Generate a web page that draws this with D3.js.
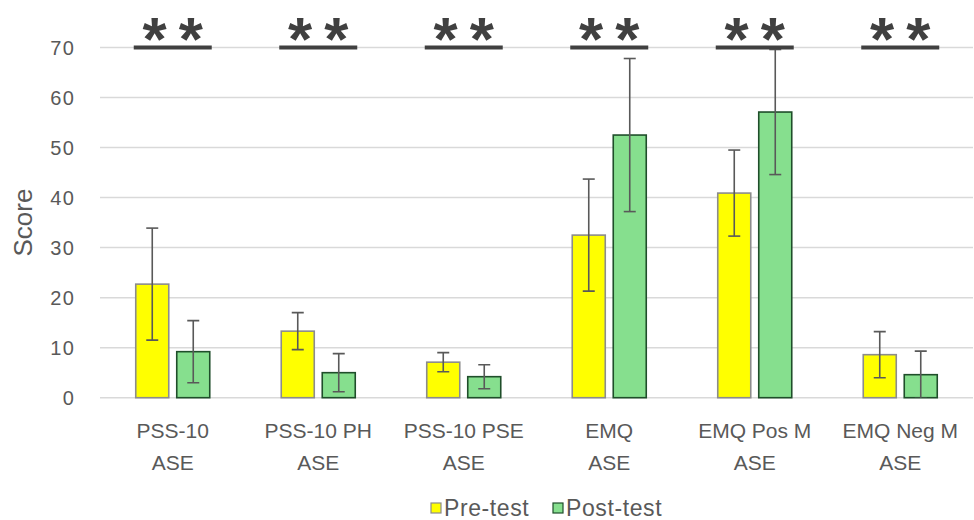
<!DOCTYPE html>
<html>
<head>
<meta charset="utf-8">
<script src="https://cdn.jsdelivr.net/npm/d3@7"></script>
<style>
  body{margin:0;background:#fff;}
  svg{display:block;font-family:"Liberation Sans",Arial,sans-serif;}
</style>
</head>
<body>
<div id="chart"></div>
<script>
// ---- data ----
var categories = ["PSS-10|ASE","PSS-10 PH|ASE","PSS-10 PSE|ASE","EMQ|ASE","EMQ Pos M|ASE","EMQ Neg M|ASE"];
var series = ["Pre-test","Post-test"];
var preMean  = [22.7, 13.3, 7.1, 32.5, 40.9, 8.6];
var preErr   = [11.2, 3.7, 1.9, 11.2, 8.6, 4.6];
var postMean = [9.2, 5.0, 4.2, 52.5, 57.1, 4.6];
var postErr  = [6.2, 3.8, 2.4, 15.3, 12.5, 4.7];
var sigMarks = ["**","**","**","**","**","**"];
var sigLevel = 70;
var yTicks = [0,10,20,30,40,50,60,70];

var width = 974, height = 520;
var plot = {left:100, right:973, top:47.5, bottom:397.7};
var fills = {"Pre-test":"#ffff00","Post-test":"#86df8e"};
var strokes = {"Pre-test":"#8c8c8c","Post-test":"#1f4e2a"};

var svg = d3.select("#chart").append("svg")
    .attr("width",width).attr("height",height);

var y = d3.scaleLinear().domain([0,70]).range([plot.bottom,plot.top]);
var x0 = d3.scaleBand().domain(categories).range([plot.left,plot.right]).padding(0);
var x1 = d3.scaleBand().domain(series).range([0,x0.bandwidth()])
    .paddingInner(0.195).paddingOuter(0.872);

// gridlines
svg.append("g").selectAll("line").data(yTicks).enter().append("line")
    .attr("x1",plot.left).attr("x2",plot.right)
    .attr("y1",function(d){return y(d);}).attr("y2",function(d){return y(d);})
    .attr("stroke","#d9d9d9").attr("stroke-width",1.5);

// y tick labels
svg.append("g").selectAll("text").data(yTicks).enter().append("text")
    .attr("x",75).attr("y",function(d){return y(d)+7;})
    .attr("text-anchor","end").attr("font-size",20).attr("letter-spacing",1.2)
    .attr("fill","#595959").text(function(d){return d;});

svg.append("text")
    .attr("transform","translate(32,"+((plot.top+plot.bottom)/2)+") rotate(-90)")
    .attr("text-anchor","middle").attr("font-size",26).attr("fill","#595959")
    .text("Score");

// rows for bars
var rows = [];
categories.forEach(function(c,i){
    rows.push({cat:c,s:"Pre-test",v:preMean[i],e:preErr[i]});
    rows.push({cat:c,s:"Post-test",v:postMean[i],e:postErr[i]});
});

svg.append("g").selectAll("rect").data(rows).enter().append("rect")
    .attr("x",function(d){return x0(d.cat)+x1(d.s);})
    .attr("y",function(d){return y(d.v);})
    .attr("width",x1.bandwidth())
    .attr("height",function(d){return y(0)-y(d.v);})
    .attr("fill",function(d){return fills[d.s];})
    .attr("stroke",function(d){return strokes[d.s];})
    .attr("stroke-width",1.6);

// error bars, clipped at the baseline
svg.append("clipPath").attr("id","clipPlot").append("rect")
    .attr("x",0).attr("y",0).attr("width",width).attr("height",y(0));
var eb = svg.append("g").attr("clip-path","url(#clipPlot)")
    .selectAll("g").data(rows).enter().append("g")
    .attr("stroke","#595959").attr("stroke-width",1.6);
var cx = function(d){return x0(d.cat)+x1(d.s)+x1.bandwidth()/2;};
eb.append("line").attr("x1",cx).attr("x2",cx)
    .attr("y1",function(d){return y(d.v+d.e);}).attr("y2",function(d){return y(d.v-d.e);});
eb.append("line").attr("x1",function(d){return cx(d)-6;}).attr("x2",function(d){return cx(d)+6;})
    .attr("y1",function(d){return y(d.v+d.e);}).attr("y2",function(d){return y(d.v+d.e);});
eb.append("line").attr("x1",function(d){return cx(d)-6;}).attr("x2",function(d){return cx(d)+6;})
    .attr("y1",function(d){return y(d.v-d.e);}).attr("y2",function(d){return y(d.v-d.e);});

// significance brackets
var sig = svg.append("g").selectAll("g").data(categories).enter().append("g");
sig.append("line")
    .attr("x1",function(d){return x0(d)+x1("Pre-test")-2;})
    .attr("x2",function(d){return x0(d)+x1("Post-test")+x1.bandwidth()+2;})
    .attr("y1",y(sigLevel)).attr("y2",y(sigLevel))
    .attr("stroke","#404040").attr("stroke-width",4);
sig.append("text")
    .attr("x",function(d){return x0(d)+x0.bandwidth()/2+6;})
    .attr("y",60)
    .attr("text-anchor","middle").attr("font-size",62).attr("font-weight","bold")
    .attr("letter-spacing",12)
    .attr("fill","#404040")
    .text(function(d,i){return sigMarks[i];});

// category labels (two lines)
var xl = svg.append("g").selectAll("text").data(categories).enter().append("text")
    .attr("text-anchor","middle").attr("font-size",21).attr("fill","#595959");
xl.append("tspan").attr("x",function(d){return x0(d)+x0.bandwidth()/2;}).attr("y",438)
    .text(function(d){return d.split("|")[0];});
xl.append("tspan").attr("x",function(d){return x0(d)+x0.bandwidth()/2;}).attr("y",470)
    .text(function(d){return d.split("|")[1];});

// legend
var legendX = {"Pre-test":431,"Post-test":553};
var lg = svg.append("g").selectAll("g").data(series).enter().append("g")
    .attr("transform",function(d){return "translate("+legendX[d]+",0)";});
lg.append("rect").attr("x",0).attr("y",503).attr("width",10).attr("height",10)
    .attr("fill",function(d){return fills[d];})
    .attr("stroke",function(d){return strokes[d];}).attr("stroke-width",1.2);
lg.append("text").attr("x",13).attr("y",516).attr("font-size",23)
    .attr("letter-spacing",0.6).attr("fill","#595959").text(function(d){return d;});
</script>
</body>
</html>
